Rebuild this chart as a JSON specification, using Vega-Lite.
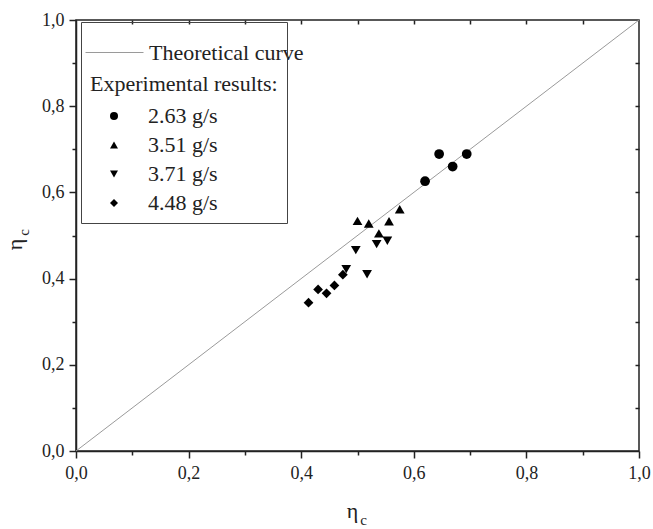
{
  "$schema": "https://vega.github.io/schema/vega-lite/v6.json",
  "width": 563,
  "height": 431,
  "autosize": {"type": "none"},
  "padding": {"left": 76, "top": 20, "right": 14, "bottom": 78},
  "background": "white",
  "config": {
    "view": {"stroke": "#222", "strokeWidth": 1.5},
    "font": "Liberation Serif",
    "axis": {"grid": false, "labelFont": "Liberation Serif", "titleFont": "Liberation Serif", "labelColor": "#222", "titleColor": "#222", "domainColor": "#222", "tickColor": "#222", "domainWidth": 1.5, "tickWidth": 1.5, "titleFontWeight": "normal"},
    "legend": {"labelFont": "Liberation Serif", "titleFont": "Liberation Serif", "labelFontSize": 22, "titleFontSize": 22, "labelColor": "#222", "titleColor": "#222", "titleFontWeight": "normal", "labelLimit": 400, "titleLimit": 400}
  },
  "datasets": {
    "curve": [{"x": 0, "y": 0}, {"x": 1, "y": 1}],
    "points": [
      {"series": "2.63 g/s", "x": 0.645, "y": 0.689},
      {"series": "2.63 g/s", "x": 0.694, "y": 0.689},
      {"series": "2.63 g/s", "x": 0.669, "y": 0.660},
      {"series": "2.63 g/s", "x": 0.620, "y": 0.626},
      {"series": "3.51 g/s", "x": 0.575, "y": 0.561},
      {"series": "3.51 g/s", "x": 0.500, "y": 0.534},
      {"series": "3.51 g/s", "x": 0.520, "y": 0.528},
      {"series": "3.51 g/s", "x": 0.556, "y": 0.533},
      {"series": "3.51 g/s", "x": 0.538, "y": 0.505},
      {"series": "3.71 g/s", "x": 0.534, "y": 0.480},
      {"series": "3.71 g/s", "x": 0.553, "y": 0.488},
      {"series": "3.71 g/s", "x": 0.497, "y": 0.466},
      {"series": "3.71 g/s", "x": 0.480, "y": 0.422},
      {"series": "3.71 g/s", "x": 0.517, "y": 0.410},
      {"series": "4.48 g/s", "x": 0.474, "y": 0.409},
      {"series": "4.48 g/s", "x": 0.459, "y": 0.384},
      {"series": "4.48 g/s", "x": 0.430, "y": 0.375},
      {"series": "4.48 g/s", "x": 0.445, "y": 0.366},
      {"series": "4.48 g/s", "x": 0.413, "y": 0.344}
    ]
  },
  "layer": [
    {
      "data": {"name": "curve"},
      "mark": {"type": "line", "strokeWidth": 1},
      "encoding": {
        "x": {"field": "x", "type": "quantitative", "scale": {"domain": [0, 1], "nice": false, "zero": false},
          "axis": {"orient": "bottom", "values": [0, 0.1, 0.2, 0.3, 0.4, 0.5, 0.6, 0.7, 0.8, 0.9, 1],
            "labelExpr": "round(datum.value*10) % 2 == 0 ? replace(format(datum.value, '.1f'), '.', ',') : ''",
            "tickSize": {"condition": {"test": "round(datum.value*10) % 2 == 0", "value": 7}, "value": 4},
            "labelFontSize": 18, "labelPadding": 6, "labelFlush": false, "labelOverlap": false,
            "title": "η", "titleFontSize": 22, "titleX": 276, "titleY": 66, "titleBaseline": "alphabetic", "titleAlign": "center"}},
        "y": {"field": "y", "type": "quantitative", "scale": {"domain": [0, 1], "nice": false, "zero": false},
          "axis": {"orient": "left", "values": [0, 0.1, 0.2, 0.3, 0.4, 0.5, 0.6, 0.7, 0.8, 0.9, 1],
            "labelExpr": "round(datum.value*10) % 2 == 0 ? replace(format(datum.value, '.1f'), '.', ',') : ''",
            "tickSize": {"condition": {"test": "round(datum.value*10) % 2 == 0", "value": 7}, "value": 4},
            "labelFontSize": 18, "labelPadding": 5, "labelFlush": false, "labelOverlap": false,
            "title": "η", "titleFontSize": 22, "titleX": -55, "titleY": 224, "titleAngle": -90, "titleBaseline": "alphabetic", "titleAlign": "center"}},
        "stroke": {"datum": "Theoretical curve", "type": "nominal",
          "scale": {"range": ["#9a9a9a"]},
          "legend": {"orient": "none", "legendX": 9, "legendY": 3, "title": null, "padding": 0,
            "symbolType": "stroke", "symbolSize": 3364, "symbolStrokeWidth": 1, "symbolOffset": 0, "labelOffset": 5}}
      }
    },
    {
      "data": {"name": "curve"},
      "mark": {"type": "point", "opacity": 0},
      "encoding": {
        "x": {"field": "x", "type": "quantitative",
          "axis": {"orient": "bottom", "labels": false, "ticks": false, "domain": false,
            "title": "c", "titleFontSize": 15, "titleX": 287, "titleY": 73, "titleBaseline": "alphabetic", "titleAlign": "center"}},
        "y": {"field": "y", "type": "quantitative",
          "axis": {"orient": "left", "labels": false, "ticks": false, "domain": false,
            "title": "c", "titleFontSize": 15, "titleX": -48, "titleY": 212, "titleAngle": -90, "titleBaseline": "alphabetic", "titleAlign": "center"}}
      }
    },
    {
      "data": {"name": "points"},
      "mark": {"type": "point", "filled": true, "opacity": 1, "color": "black", "size": 95},
      "encoding": {
        "x": {"field": "x", "type": "quantitative",
          "axis": {"orient": "top", "values": [0.1, 0.2, 0.3, 0.4, 0.5, 0.6, 0.7, 0.8, 0.9], "labels": false, "title": null, "domain": false,
            "offset": -4, "tickSize": 4}},
        "y": {"field": "y", "type": "quantitative",
          "axis": {"orient": "right", "values": [0.1, 0.2, 0.3, 0.4, 0.5, 0.6, 0.7, 0.8, 0.9], "labels": false, "title": null, "domain": false,
            "offset": -4, "tickSize": 4}},
        "shape": {"field": "series", "type": "nominal",
          "scale": {"domain": ["2.63 g/s", "3.51 g/s", "3.71 g/s", "4.48 g/s"],
            "range": ["circle", "triangle-up", "triangle-down", "diamond"]},
          "legend": {"orient": "none", "legendX": 5, "legendY": 2,
            "title": ["", "Experimental results:\u2003\u2002\u2009\u2009"], "titleLineHeight": 43, "titleBaseline": "top", "titlePadding": 9,
            "padding": 9, "strokeColor": "#444", "symbolSize": 64, "symbolOffset": 13, "labelOffset": 23,
            "rowPadding": 7, "symbolFillColor": "black"}}
      }
    }
  ],
  "resolve": {"axis": {"x": "independent", "y": "independent"}}
}
